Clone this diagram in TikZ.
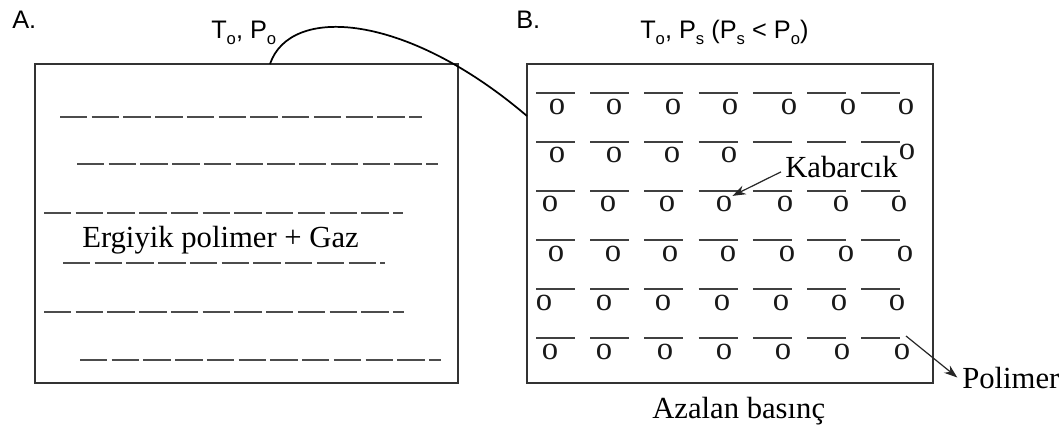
\documentclass[tikz,border=0pt]{standalone}
\usepackage{fontspec}
\setmainfont{Liberation Serif}
\setsansfont{Liberation Sans}
\usetikzlibrary{arrows.meta}
\newcommand{\subo}[1]{\raisebox{-0.24em}{\fontsize{12.5}{13}\selectfont #1}}
\begin{document}
\begin{tikzpicture}[x=0.75pt,y=-0.75pt,
  boxst/.style={draw=black!80, line width=1.4pt, inner sep=0pt},
  dline/.style={draw=black!70, line width=2pt, dash pattern=on 20.5pt off 3.3pt},
  barst/.style={draw=black!75, line width=2pt},
  ser/.style={font=\fontsize{23}{25}\selectfont, inner sep=0pt, anchor=base west},
  san/.style={font=\sffamily\fontsize{19}{22}\selectfont, inner sep=0pt, anchor=base west},
  oo/.style={font=\fontsize{24.5}{26}\selectfont, inner sep=0pt, text=black!90},
  arr/.style={-{Stealth[length=10pt,width=7pt]}, line width=0.9pt, draw=black!85}]
\useasboundingbox (0,0) rectangle (1064,430);
% boxes
\node[boxst, minimum width=317.25pt, minimum height=239.25pt] (boxA) at (246.5,223.5) {};
\node[boxst, minimum width=304.5pt, minimum height=239.25pt] (boxB) at (730,223.5) {};
% connecting curve
\coordinate (cs) at (270,64);
\coordinate (ce) at (527,116);
\draw[line width=1.3pt] (cs) .. controls (290,5) and (405,12) .. (ce);
% labels
\node[san] (labA) at (12,28) {A.};
\node[san] (tA) at (211,38) {T\subo{o}, P\subo{o}};
\node[san] (labB) at (516,28) {B.};
\node[san] (tB) at (640,38) {T\subo{o}, P\subo{s} (P\subo{s} < P\subo{o})};
% dashed lines in A
\draw[dline] (60,117) -- (422,117);
\draw[dline] (77,164) -- (438,164);
\draw[dline] (44,213) -- (403,213);
\draw[dline] (63,263) -- (385,263);
\draw[dline] (44,312) -- (404,312);
\draw[dline] (80,360) -- (441,360);
\node[ser] (erg) at (82,247) {Ergiyik polimer + Gaz};
% bars in B
\foreach \yy in {93,142,191,240,289,338}
  \foreach \i in {0,...,6}
    \draw[barst] ({536+54.2*\i},\yy) -- ++(39,0);
% bubbles
\foreach \x [count=\c] in {557,614,673,730,789,848,906} \node[oo] (o1\c) at (\x,107) {o};
\foreach \x [count=\c] in {557,614,672,729} \node[oo] (o2\c) at (\x,155) {o};
\node[oo] (o27) at (907,152) {o};
\foreach \x [count=\c] in {550,608,667,724,785,841,899} \node[oo] (o3\c) at (\x,204) {o};
\foreach \x [count=\c] in {556,613,670,728,787,846,905} \node[oo] (o4\c) at (\x,254) {o};
\foreach \x [count=\c] in {544,604,663,722,781,839,897} \node[oo] (o5\c) at (\x,303) {o};
\foreach \x [count=\c] in {550,604,665,724,783,842,902} \node[oo] (o6\c) at (\x,352) {o};
% labels in B
\node[ser] (kab) at (785,177) {Kabarcık};
\node[ser] (pol) at (962,388) {Polimer};
\node[ser] (aza) at (652,418) {Azalan basınç};
\draw[arr] ([xshift=-3pt,yshift=-4pt]kab.west) -- (o34.north east);
\coordinate (ps) at (906,336);
\draw[arr] (ps) -- ([xshift=-3.5pt]pol.west);
\end{tikzpicture}
\end{document}
